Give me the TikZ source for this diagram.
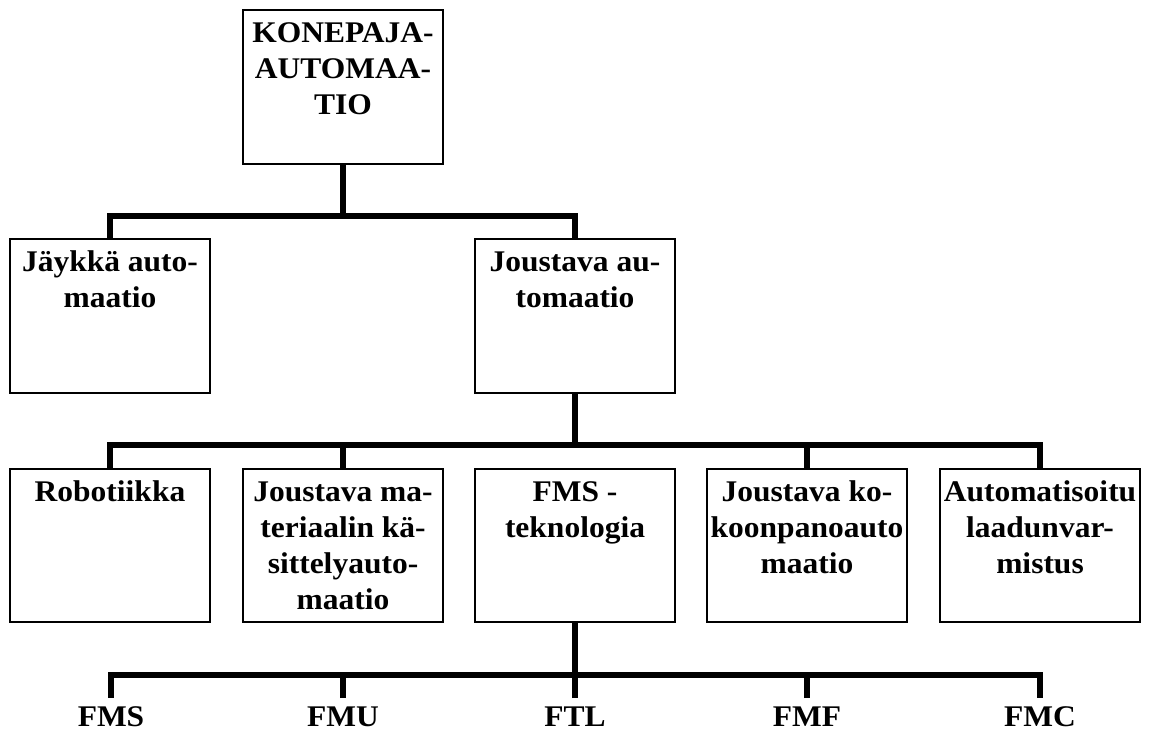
\documentclass[tikz,border=0pt]{standalone}
\usepackage{fontspec}
\setmainfont{Liberation Serif}[FakeStretch=1.05]
\begin{document}
\begin{tikzpicture}[x=0.75pt,y=-0.75pt,
  box/.style={draw=black, line width=1.1pt, minimum width=150pt, minimum height=115.5pt, inner sep=0pt},
  txt/.style={anchor=north, align=center, inner sep=0pt, font=\fontsize{22.5}{27}\selectfont\bfseries},
  leaf/.style={anchor=base, inner xsep=0pt, inner ysep=6pt, font=\fontsize{22.5}{27}\selectfont\bfseries},
  conn/.style={line width=4.8pt, line join=miter}]
\useasboundingbox (0,0) rectangle (1152,731);
% level 1
\node[box] (top) at (343,87) {};
\node[txt] (topt) at ([yshift=-5.5pt]top.north) {\strut KONEPAJA-\\AUTOMAA-\\TIO};
% level 2
\node[box] (jay) at (110,316) {};
\node[txt] (jayt) at ([yshift=-5.5pt]jay.north) {\strut Jäykkä auto-\\maatio};
\node[box] (jou) at (575,316) {};
\node[txt] (jout) at ([yshift=-5.5pt]jou.north) {\strut Joustava au-\\tomaatio};
% level 3
\node[box, minimum height=114.75pt] (rob) at (110,545.5) {};
\node[txt] (robt) at ([yshift=-5.5pt]rob.north) {\strut Robotiikka};
\node[box, minimum height=114.75pt] (jm) at (343,545.5) {};
\node[txt] (jmt) at ([yshift=-5.5pt]jm.north) {\strut Joustava ma-\\teriaalin kä-\\sittelyauto-\\maatio};
\node[box, minimum height=114.75pt] (fms) at (575,545.5) {};
\node[txt] (fmst) at ([yshift=-5.5pt]fms.north) {\strut FMS -\\teknologia};
\node[box, minimum height=114.75pt] (jk) at (807,545.5) {};
\node[txt] (jkt) at ([yshift=-5.5pt]jk.north) {\strut Joustava ko-\\koonpanoauto\\maatio};
\node[box, minimum height=114.75pt] (aut) at (1040,545.5) {};
\node[txt] (autt) at ([yshift=-5.5pt]aut.north) {\strut Automatisoitu\\laadunvar-\\mistus};
% leaves
\node[leaf] (l1) at (111,726) {FMS};
\node[leaf] (l2) at (343,726) {FMU};
\node[leaf] (l3) at (575,726) {FTL};
\node[leaf] (l4) at (807,726) {FMF};
\node[leaf] (l5) at (1040,726) {FMC};
% junctions
\coordinate (b1) at (343,216);
\coordinate (b2) at (575,445);
\coordinate (b3) at (575,675);
% connectors
\draw[conn] (top.south) -- (b1);
\draw[conn] (jay.north) |- (b1) -| (jou.north);
\draw[conn] (jou.south) -- (b2);
\draw[conn] (rob.north) |- (b2) -| (aut.north);
\draw[conn] (jm.north) |- (b2);
\draw[conn] (jk.north) |- (b2);
\draw[conn] (fms.south) -- (b3);
\draw[conn] (l1.north) |- (b3) -| (l5.north);
\draw[conn] (l2.north) |- (b3);
\draw[conn] (l3.north) -- (b3);
\draw[conn] (l4.north) |- (b3);
\end{tikzpicture}
\end{document}
